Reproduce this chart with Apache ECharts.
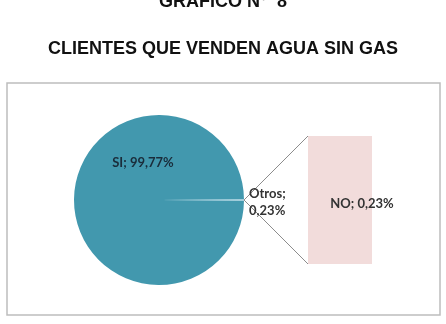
<!DOCTYPE html>
<html><head><meta charset="utf-8">
<script src="https://cdn.jsdelivr.net/npm/echarts@6/dist/echarts.min.js"></script>
<style>html,body{margin:0;padding:0;background:#fff}#c{width:446px;height:324px}</style>
</head><body><div id="c"></div>
<script>
var titleLines = ["GRAFICO N°  8", "CLIENTES QUE VENDEN AGUA SIN GAS"];
var pieNames = ["SI", "Otros"];
var pieValues = [99.77, 0.23];
var pieLabels = ["SI; 99,77%", "Otros;\n0,23%"];
var barCategories = ["NO"];
var barValues = [0.23];
var barLabels = ["NO; 0,23%"];

var chart = echarts.init(document.getElementById('c'), null, {renderer: 'canvas'});
var option = {
  animation: false,
  backgroundColor: '#fff',
  title: [
    {text: titleLines[0], left: 'center', top: -12, textStyle: {fontFamily: 'Liberation Sans', fontWeight: 'bold', fontSize: 18, color: '#111', lineHeight: 18}},
    {text: titleLines[1], left: 'center', top: 35, textStyle: {fontFamily: 'Liberation Sans', fontWeight: 'bold', fontSize: 18, color: '#111', lineHeight: 18}}
  ],
  grid: {left: 308, top: 136, width: 64, height: 128},
  xAxis: {type: 'category', data: barCategories, show: false},
  yAxis: {type: 'value', min: 0, max: 0.23, show: false},
  series: [
    {
      type: 'pie',
      center: [159, 200],
      radius: [0, 85],
      startAngle: -0.414,
      clockwise: true,
      silent: true,
      itemStyle: {borderWidth: 0},
      data: pieNames.map(function (n, i) {
        return {
          name: n, value: pieValues[i],
          itemStyle: {color: i === 0 ? '#4298ae' : '#a9d3e3'},
          label: i === 0 ? {
            show: true, position: 'center', offset: [-16, -37],
            formatter: pieLabels[i], fontFamily: 'Lato', fontWeight: 'bold', fontSize: 13, color: '#1a2c3a'
          } : {
            show: true, position: 'outside', formatter: pieLabels[i], align: 'left', offset: [-1, 2],
            fontFamily: 'Lato', fontWeight: 'bold', fontSize: 13, color: '#333', lineHeight: 17
          },
          labelLine: {show: false, length: 1, length2: 0}
        };
      })
    },
    {
      type: 'bar',
      data: barValues,
      barWidth: '100%',
      silent: true,
      itemStyle: {color: '#f2dcdb'},
      label: {show: true, position: 'inside', offset: [22, 4], formatter: function (p) { return barLabels[p.dataIndex]; },
        fontFamily: 'Lato', fontWeight: 'bold', fontSize: 13, color: '#333'}
    }
  ]
};
chart.setOption(option);
var c = [159, 200], r = 85;
var tl = chart.convertToPixel({gridIndex: 0}, [0, barValues[0]]);
var bl = chart.convertToPixel({gridIndex: 0}, [0, 0]);
var barLeft = 308;
chart.setOption({graphic: [
  {type: 'rect', shape: {x: 7, y: 83, width: 433, height: 232}, style: {fill: 'none', stroke: '#bdbdbd', lineWidth: 1.5}, z: 0},
  {type: 'line', shape: {x1: c[0] + r, y1: c[1], x2: barLeft, y2: tl[1]}, style: {stroke: '#8c8c8c', lineWidth: 1}},
  {type: 'line', shape: {x1: c[0] + r, y1: c[1], x2: barLeft, y2: bl[1]}, style: {stroke: '#8c8c8c', lineWidth: 1}}
]});
</script>
</body></html>
